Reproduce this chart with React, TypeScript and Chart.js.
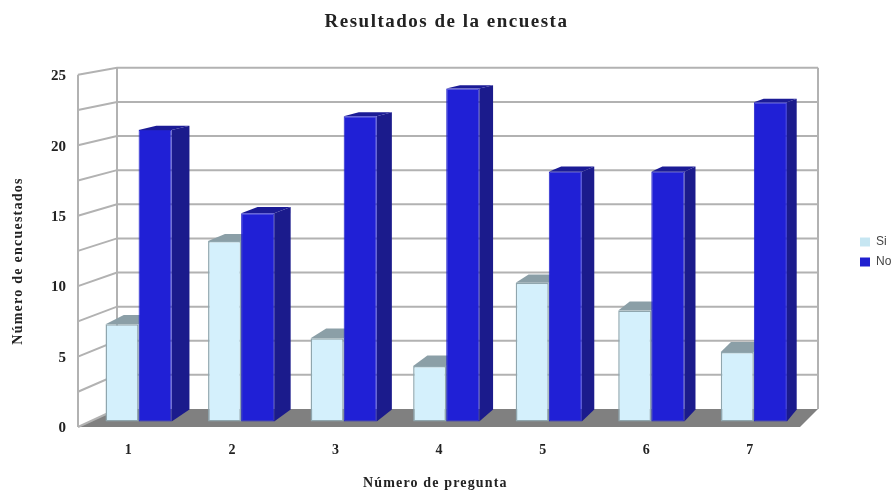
import React, { useEffect, useRef } from "react";
import { Chart, registerables } from "chart.js";

Chart.register(...registerables);

const categories = ["1", "2", "3", "4", "5", "6", "7"];
const siValues = [7, 13, 6, 4, 10, 8, 5];
const noValues = [21, 15, 22, 24, 18, 18, 23];
const gridValues = [0, 2.5, 5, 7.5, 10, 12.5, 15, 17.5, 20, 22.5, 25];
const labelValues = [0, 5, 10, 15, 20, 25];

const SERIF = "'Liberation Serif', serif";
const GRID = "#b2b2b2";
const FLOOR = "#808080";
// bars stand on a plane set back from the front edge, slightly narrower in perspective
const BAR_SCALE = 0.98984;
const BAR_SHIFT = 11.6;
const DEPTH_LEFT = 18;
const DEPTH_RIGHT = 10;
const FRONT_LEFT = 78;
const FRONT_RIGHT = 800;
const WALL_LEFT = 117;
const WALL_RIGHT = 818;

const faces = [
  { top: "#8b9fa7", side: "#8b9fa7" },
  { top: "#1b1b96", side: "#1b1b8c" },
];
const swatches = ["#c6e6f2", "#2020d0"];

const spaced = (target: any, method: string, ctx: any, spacing: string) => {
  if (target.__spaced) return;
  target.__spaced = true;
  const original = target[method];
  target[method] = function (...args: any[]) {
    ctx.letterSpacing = spacing;
    const result = original.apply(this, args);
    ctx.letterSpacing = "0px";
    return result;
  };
};

const scene = {
  id: "scene",
  afterLayout(chart: any) {
    spaced(chart.titleBlock, "draw", chart.ctx, "1.5px");
    spaced(chart.scales.x, "drawTitle", chart.ctx, "1.15px");
    spaced(chart.scales.y, "drawTitle", chart.ctx, "1.24px");
    chart.legend.left = 852;
    chart.legend.right = 893;
    chart.legend.top = 0;
    chart.legend.bottom = 504;
    chart.scales.y.top = 95;
    chart.scales.x.left = 69;
    chart.titleBlock.left = 0;
    chart.titleBlock.right = 893;
  },
  beforeDatasetsDraw(chart: any) {
    const { ctx, scales, chartArea } = chart;
    const front = scales.y;
    const back = scales.yBack;
    const barBack = scales.yBarBack;

    ctx.save();
    // floor
    ctx.fillStyle = FLOOR;
    ctx.beginPath();
    ctx.moveTo(FRONT_LEFT, front.getPixelForValue(0));
    ctx.lineTo(FRONT_RIGHT, front.getPixelForValue(0));
    ctx.lineTo(WALL_RIGHT, back.getPixelForValue(0));
    ctx.lineTo(WALL_LEFT, back.getPixelForValue(0));
    ctx.closePath();
    ctx.fill();

    // walls
    ctx.strokeStyle = GRID;
    ctx.lineWidth = 2;
    for (const v of gridValues) {
      const fy = front.getPixelForValue(v);
      const by = back.getPixelForValue(v);
      ctx.beginPath();
      ctx.moveTo(FRONT_LEFT, fy);
      ctx.lineTo(WALL_LEFT, by);
      if (v > 0) ctx.lineTo(WALL_RIGHT, by);
      ctx.stroke();
    }
    ctx.beginPath();
    ctx.moveTo(FRONT_LEFT, front.getPixelForValue(25));
    ctx.lineTo(FRONT_LEFT, front.getPixelForValue(0));
    ctx.moveTo(WALL_LEFT, back.getPixelForValue(25));
    ctx.lineTo(WALL_LEFT, back.getPixelForValue(0));
    ctx.moveTo(WALL_RIGHT, back.getPixelForValue(25));
    ctx.lineTo(WALL_RIGHT, back.getPixelForValue(0));
    ctx.stroke();

    // 3D side and top faces of the bars; depth shrinks to the right
    chart.data.datasets.forEach((ds: any, di: number) => {
      const meta = chart.getDatasetMeta(di);
      meta.data.forEach((bar: any, i: number) => {
        const { x, y, base, width } = bar.getProps(["x", "y", "base", "width"], true);
        const l = (x - width / 2) * BAR_SCALE + BAR_SHIFT;
        const r = (x + width / 2) * BAR_SCALE + BAR_SHIFT;
        const t = (x - chartArea.left - 52) / (chartArea.right - chartArea.left - 104);
        const depth = DEPTH_LEFT + (DEPTH_RIGHT - DEPTH_LEFT) * t;
        const by = barBack.getPixelForValue(ds.data[i]);
        const bb = barBack.getPixelForValue(0);
        ctx.fillStyle = faces[di].side;
        ctx.beginPath();
        ctx.moveTo(r, y);
        ctx.lineTo(r + depth, by);
        ctx.lineTo(r + depth, bb);
        ctx.lineTo(r, base);
        ctx.closePath();
        ctx.fill();
        ctx.fillStyle = faces[di].top;
        ctx.beginPath();
        ctx.moveTo(l, y);
        ctx.lineTo(l + depth, by);
        ctx.lineTo(r + depth, by);
        ctx.lineTo(r, y);
        ctx.closePath();
        ctx.fill();
      });
    });
    ctx.restore();

    ctx.save();
    ctx.translate(BAR_SHIFT, 0);
    ctx.scale(BAR_SCALE, 1);
  },
  afterDatasetsDraw(chart: any) {
    chart.ctx.restore();
  },
};

export default function App() {
  const ref = useRef<HTMLCanvasElement>(null);
  useEffect(() => {
    const chart = new Chart(ref.current as HTMLCanvasElement, {
      type: "bar",
      plugins: [scene],
      data: {
        labels: categories,
        datasets: [
          {
            label: "Si",
            data: siValues,
            yAxisID: "yBar",
            clip: false,
            backgroundColor: "#d4f0fc",
            borderColor: "#8fa6ae",
            borderWidth: 1.5,
            borderSkipped: false,
          },
          {
            label: "No",
            data: noValues,
            yAxisID: "yBar",
            clip: false,
            backgroundColor: "#2020d6",
            borderColor: "#2020c8",
            borderWidth: 1,
            borderSkipped: false,
          },
        ],
      } as any,
      options: {
        responsive: false,
        animation: false,
        devicePixelRatio: 1,
        layout: { padding: { right: 42 } },
        datasets: { bar: { categoryPercentage: 0.645, barPercentage: 1 } },
        plugins: {
          tooltip: { enabled: false },
          title: {
            display: true,
            text: "Resultados de la encuesta",
            color: "#222222",
            font: { family: SERIF, size: 19, weight: "bold" },
            padding: { top: 11, bottom: 34 },
          },
          legend: {
            position: "right",
            labels: {
              boxWidth: 10,
              boxHeight: 9,
              padding: 8,
              color: "#444444",
              font: { family: "'Liberation Sans', sans-serif", size: 12 },
              generateLabels: (c: any) =>
                c.data.datasets.map((d: any, i: number) => ({
                  text: d.label,
                  fillStyle: swatches[i],
                  strokeStyle: swatches[i],
                  lineWidth: 0,
                  datasetIndex: i,
                  fontColor: "#444444",
                })),
            },
          },
        },
        scales: {
          x: {
            grid: { display: false },
            border: { display: false },
            afterFit: (s: any) => {
              s.height = 68;
            },
            ticks: {
              color: "#222222",
              padding: 7,
              font: { family: SERIF, size: 14, weight: "bold" },
            },
            title: {
              display: true,
              text: "Número de pregunta",
              color: "#222222",
              padding: { top: 0, bottom: 3.5 },
              font: { family: SERIF, size: 14, weight: "bold" },
            },
          },
          y: {
            axis: "y",
            position: "left",
            min: 0,
            max: 25.497,
            grid: { display: false },
            border: { display: false },
            afterFit: (s: any) => {
              s.width = 76.5;
            },
            afterBuildTicks: (s: any) => {
              s.ticks = labelValues.map((value) => ({ value }));
            },
            ticks: {
              color: "#222222",
              padding: 2.5,
              labelOffset: 1.5,
              autoSkip: false,
              font: { family: SERIF, size: 15, weight: "bold" },
            },
            title: {
              display: true,
              text: "Número de encuestados",
              color: "#222222",
              padding: { top: 10, bottom: 0 },
              font: { family: SERIF, size: 14, weight: "bold" },
            },
          },
          yBack: { axis: "y", display: false, min: -1.32, max: 25 },
          yBar: { axis: "y", display: false, min: -0.397, max: 25.49 },
          yBarBack: { axis: "y", display: false, min: -1.296, max: 25.3 },
        },
      } as any,
    });
    return () => chart.destroy();
  }, []);
  return (
    <div style={{ position: "fixed", left: 0, top: 0, width: 893, height: 495, background: "#fff" }}>
      <canvas ref={ref} width={893} height={495} style={{ display: "block" }} />
    </div>
  );
}
